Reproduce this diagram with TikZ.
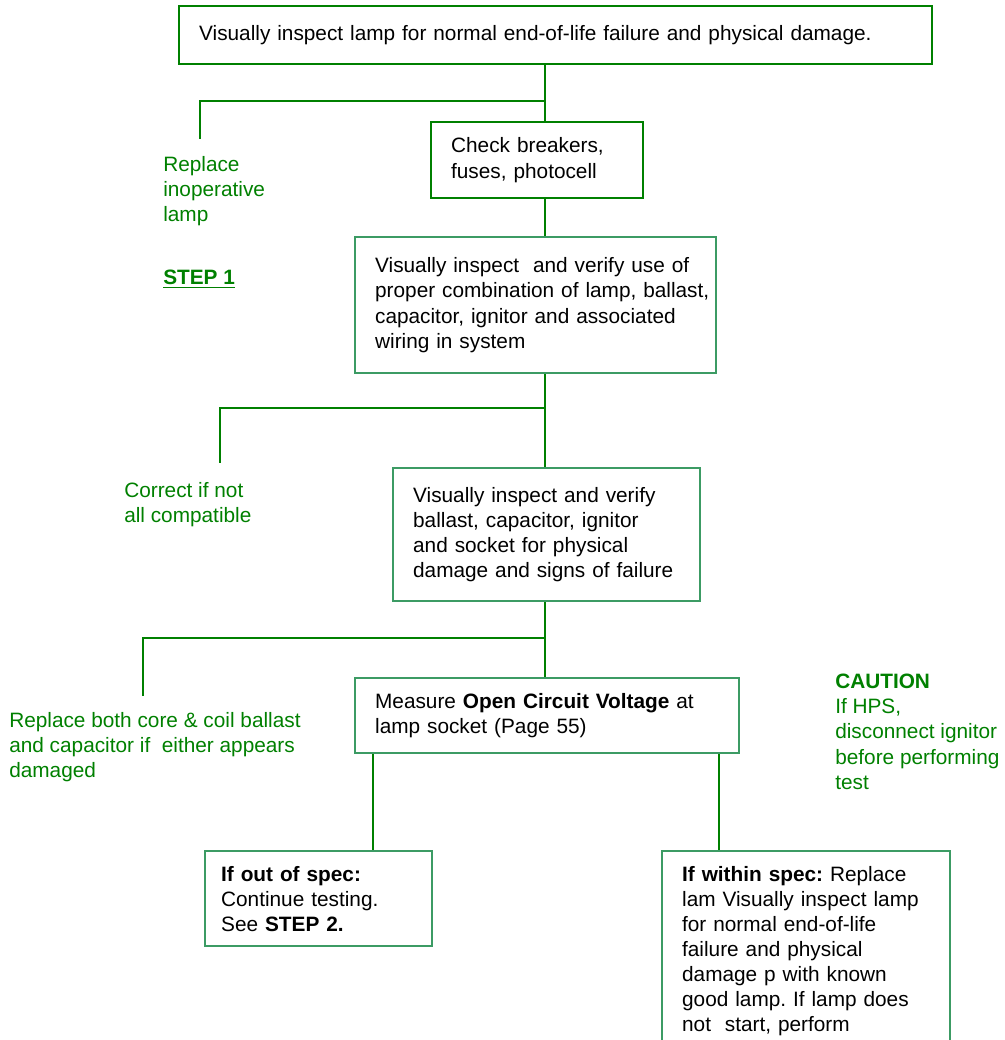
\documentclass[tikz,border=0pt]{standalone}
\usepackage{fontspec}
\setmainfont{Liberation Sans}
\frenchspacing
\hyphenpenalty=10000
\definecolor{darkgr}{RGB}{0,128,0}
\definecolor{seagr}{RGB}{60,155,100}
\tikzset{
  pbox/.style={draw, line width=1.7pt, anchor=north west, align=left, inner xsep=15pt, inner ysep=0pt},
  link/.style={draw=darkgr, line width=1.7pt},
  note/.style={anchor=north west, inner sep=0pt, align=left, text=darkgr}
}
\begin{document}
\begin{tikzpicture}[x=0.75pt,y=0.75pt,yscale=-1,xscale=1,font=\fontsize{15.6}{18.8}\selectfont]
\useasboundingbox (0,0) rectangle (1005,1040);
\clip (0,0) rectangle (1005,1040);

%Shape: boxes
\node (top) [pbox, draw=darkgr, text width=534.75pt, minimum height=43.5pt] at (178,5) {Visually inspect lamp for normal end-of-life failure and physical damage.};
\node (chk) [pbox, draw=darkgr, text width=129pt, minimum height=57pt] at (430,121) {Check breakers,\\fuses, photocell};
\node (comb) [pbox, draw=seagr, text width=240.75pt, minimum height=102pt] at (354,236) {Visually inspect \ and verify use of\\\mbox{proper combination of lamp, ballast,}\\capacitor, ignitor and associated\\wiring in system\\[6pt]};
\node (phys) [pbox, draw=seagr, text width=200.25pt, minimum height=99.75pt] at (392,467) {Visually inspect and verify\\ballast, capacitor, ignitor\\and socket for physical\\damage and signs of failure};
\node (ocv) [pbox, draw=seagr, text width=258pt, minimum height=56.25pt] at (354,677) {Measure \textbf{Open Circuit Voltage} at\\lamp socket (Page 55)};
\node (out) [pbox, draw=seagr, text width=146.25pt, minimum height=71.25pt, inner xsep=12pt] at (204,850) {\textbf{If out of spec:}\\Continue testing.\\See \textbf{STEP 2.}};
\node (within) [pbox, draw=seagr, text width=186pt, minimum height=150pt] at (661,850) {\textbf{If within spec:} Replace\\lam Visually inspect lamp\\for normal end-of-life\\failure and physical\\damage p with known\\good lamp. If lamp does\\not \ start, perform};

% Text Node
\node (inop) [note] at (163,156) {Replace\\inoperative\\lamp};
\node (step) [note] at (163,270) {\underline{\textbf{STEP 1}}};
\node (corr) [note] at (124,482) {Correct if not\\all compatible};
\node (coil) [note] at (9,712) {Replace both core \& coil ballast\\and capacitor if \ either appears\\damaged};
\node (caut) [note] at (835,674) {\textbf{CAUTION}\\If HPS,\\disconnect ignitor\\before performing\\test};

%Straight Lines
\coordinate (sp) at (545,0);
\coordinate (j1) at (545,101);
\coordinate (e1) at (200,139);
\coordinate (j2) at (545,408);
\coordinate (e2) at (220,463);
\coordinate (j3) at (545,638);
\coordinate (e3) at (143,696);
\coordinate (l1) at (373,0);
\coordinate (l2) at (719,0);
\draw [link] (top.south -| sp) -- (chk.north -| sp);
\draw [link] (j1) -| (e1);
\draw [link] (chk.south -| sp) -- (comb.north -| sp);
\draw [link] (comb.south -| sp) -- (phys.north -| sp);
\draw [link] (j2) -| (e2);
\draw [link] (phys.south -| sp) -- (ocv.north -| sp);
\draw [link] (j3) -| (e3);
\draw [link] (ocv.south -| l1) -- (out.north -| l1);
\draw [link] (ocv.south -| l2) -- (within.north -| l2);

\end{tikzpicture}
\end{document}
